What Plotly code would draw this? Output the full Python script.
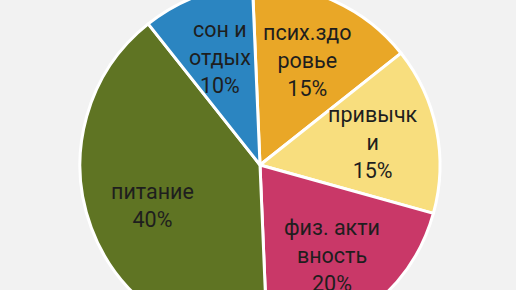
import math
import plotly.graph_objects as go

labels = ["псих.здо<br>ровье", "привычк<br>и", "физ. акти<br>вность", "питание", "сон и<br>отдых"]
values = [15, 15, 20, 40, 10]
colors = ["#E9A727", "#F8DE7E", "#C93868", "#5F7423", "#2B85C1"]

W, H = 516, 360
CX, CY, R = 260, 180, 180
ROT = -2.4

fig = go.Figure(go.Pie(
    labels=labels,
    values=values,
    sort=False,
    direction="clockwise",
    rotation=ROT,
    marker=dict(colors=colors, line=dict(color="#FFFFFF", width=3)),
    textinfo="none",
    hoverinfo="none",
    showlegend=False,
    domain=dict(x=[4/W, 1], y=[0, 1]),
))

total = sum(values)
acc = 0
for lab, v in zip(labels, values):
    mid = math.radians(ROT + (acc + v / 2) / total * 360)
    acc += v
    r = 0.64 * R
    fig.add_annotation(
        x=(CX + r * math.sin(mid)) / W,
        y=0.5 + r * math.cos(mid) / H,
        xref="paper", yref="paper",
        xanchor="center", yanchor="middle",
        text=f"{lab}<br>{v}%",
        showarrow=False,
        align="center",
        font=dict(family="Roboto", size=21.5, color="#1E1E1E"),
    )

fig.update_layout(
    width=W, height=H,
    margin=dict(l=0, r=0, t=0, b=0),
    paper_bgcolor="#F2F2F2",
    plot_bgcolor="#F2F2F2",
)
post = ("document.documentElement.style.overflow='hidden';"
        "document.body.style.margin='0';document.body.style.overflow='hidden';"
        "document.body.style.background='#F2F2F2';"
        "var d=document.getElementById('{plot_id}');d.style.position='relative';d.style.top='-15px';")
fig.write_html("out.html", post_script=post, config={"displayModeBar": False})
